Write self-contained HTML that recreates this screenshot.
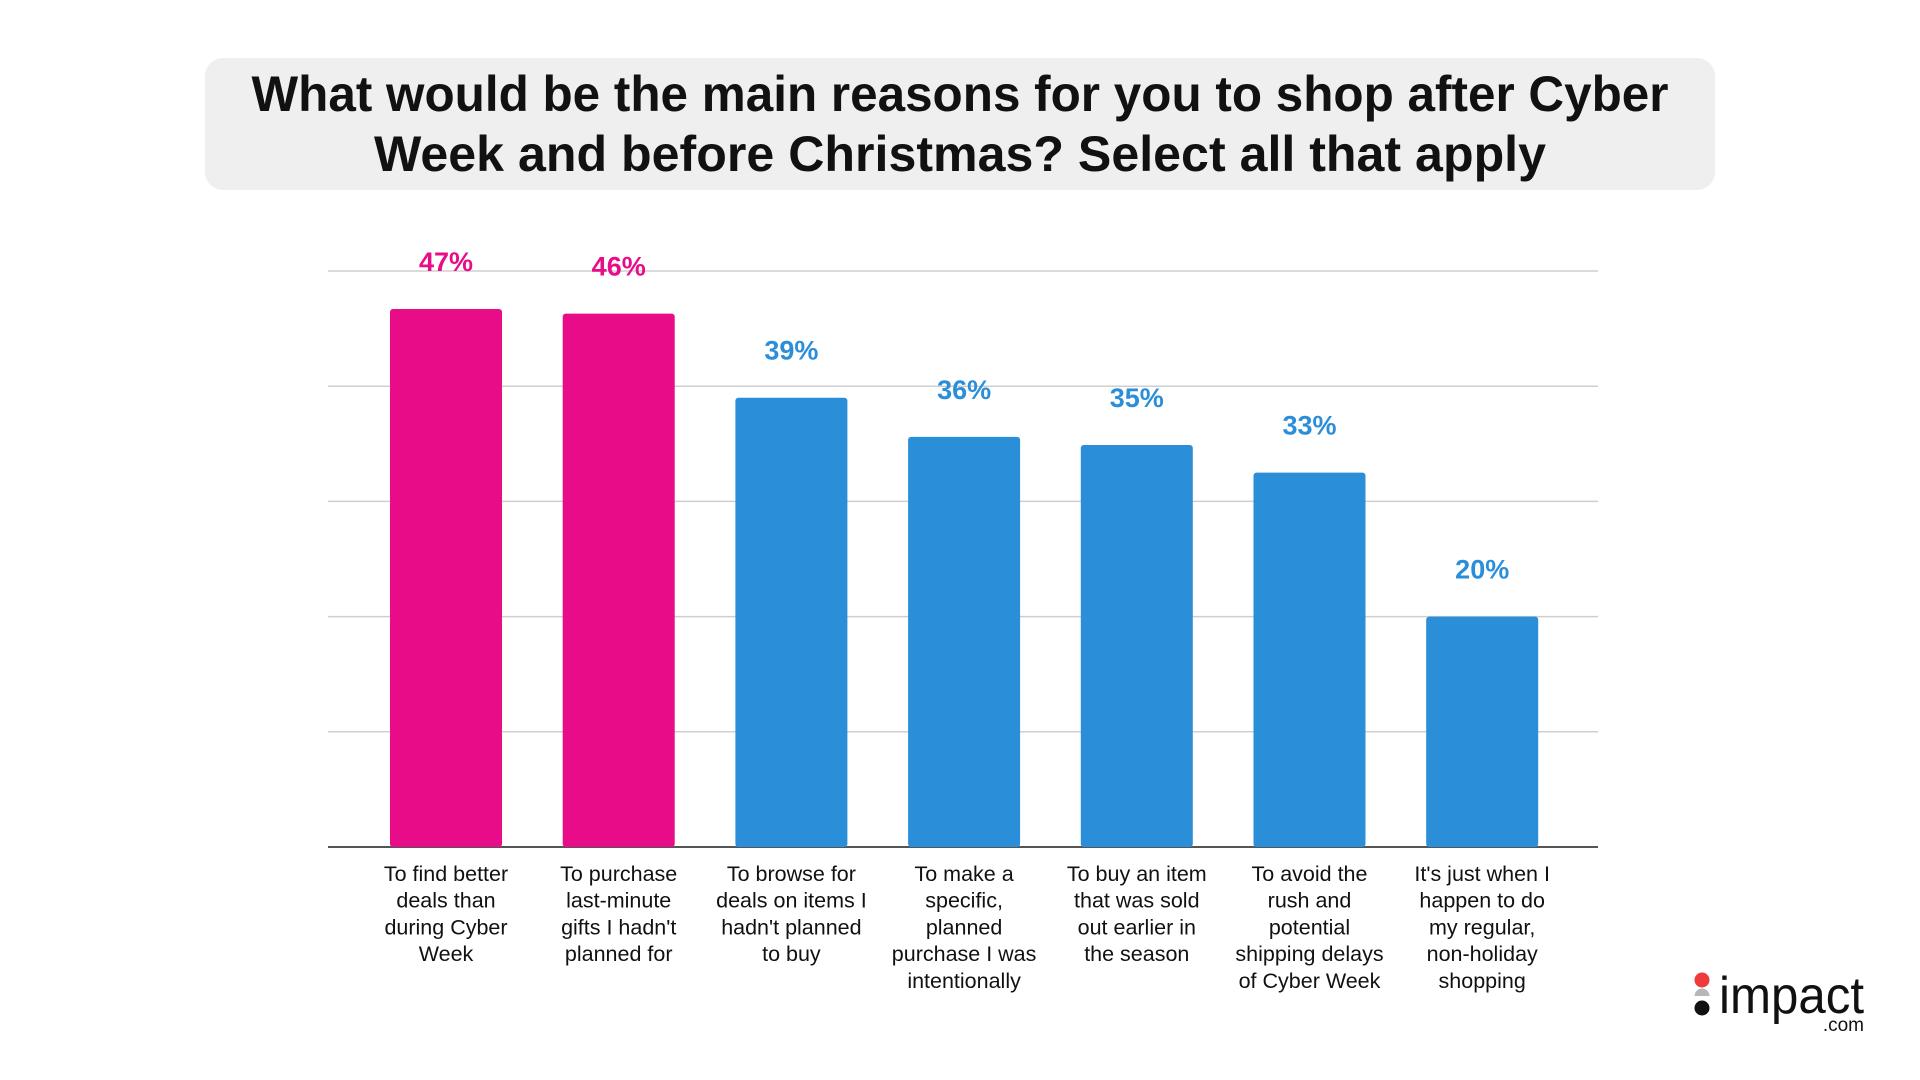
<!DOCTYPE html>
<html><head><meta charset="utf-8"><style>
html,body{margin:0;padding:0;background:#fff;}
svg{display:block;font-family:"Liberation Sans",Arial,sans-serif;}
</style></head><body>
<svg id="chart" width="1920" height="1080" viewBox="0 0 1920 1080">
<rect x="205" y="58" width="1510" height="132" rx="18" fill="#efefef"/>
<g font-weight="bold" font-size="50" fill="#111" text-anchor="middle">
<text x="960" y="111" textLength="1417" lengthAdjust="spacingAndGlyphs">What would be the main reasons for you to shop after Cyber</text>
<text x="960" y="171" textLength="1172" lengthAdjust="spacingAndGlyphs">Week and before Christmas? Select all that apply</text>
</g>
<g id="grid"></g>
<g id="bars"></g>
<g id="labels"></g>
<g>
<circle cx="1702" cy="980" r="7.5" fill="#ee3b3b"/>
<path d="M1694.5 996 a7.5 7.5 0 0 1 15 0 z" fill="#b5b8bb"/>
<circle cx="1702" cy="1008" r="7.5" fill="#111"/>
<text x="1864" y="1013" text-anchor="end" font-size="52" fill="#111" textLength="145" lengthAdjust="spacingAndGlyphs">impact</text>
<text x="1864" y="1031" text-anchor="end" font-size="19" fill="#111">.com</text>
</g>
</svg>
<script>
const categories = [
 ["To find better","deals than","during Cyber","Week"],
 ["To purchase","last-minute","gifts I hadn't","planned for"],
 ["To browse for","deals on items I","hadn't planned","to buy"],
 ["To make a","specific,","planned","purchase I was","intentionally"],
 ["To buy an item","that was sold","out earlier in","the season"],
 ["To avoid the","rush and","potential","shipping delays","of Cyber Week"],
 ["It's just when I","happen to do","my regular,","non-holiday","shopping"]
];
const values = [46.7, 46.3, 39, 35.6, 34.9, 32.5, 20];
const valueLabels = ["47%","46%","39%","36%","35%","33%","20%"];
const highlighted = [true, true, false, false, false, false, false];
const gridTicks = [0, 10, 20, 30, 40, 50];

const NS = "http://www.w3.org/2000/svg";
const x0 = 328, x1 = 1598, yBase = 847, yTop = 271, yMax = 50;
const y = v => yBase - (v / yMax) * (yBase - yTop);
const xc = i => 446 + i * 172.7;
const barW = 112;
function el(tag, attrs, parent){const e=document.createElementNS(NS,tag);for(const k in attrs)e.setAttribute(k,attrs[k]);parent.appendChild(e);return e;}

const grid = document.getElementById('grid');
gridTicks.forEach(t => {
  if (t === 0) return;
  const l = el('line', {x1:x0, x2:x1, y1:y(t), y2:y(t), stroke:'#cfcfcf', 'stroke-width':1.5}, grid);
  
  
});
const bars = document.getElementById('bars');
values.forEach((v, i) => {
  const col = highlighted[i] ? '#e80c89' : '#2b8ed9';
  const r = el('rect', {x:xc(i)-barW/2, y:y(v), width:barW, height:yBase-y(v), rx:3, fill:col}, bars);
  
  
  const t = el('text', {x:xc(i), y:y(v)-38, 'text-anchor':'middle', 'font-size':27, 'font-weight':'bold', fill:col}, bars);
  t.textContent = valueLabels[i];
  
  
});
const ax = el('line', {x1:x0, x2:x1, y1:yBase, y2:yBase, stroke:'#555', 'stroke-width':2}, grid);


const labels = document.getElementById('labels');
categories.forEach((lines, i) => {
  const t = el('text', {x:xc(i), 'text-anchor':'middle', 'font-size':21.5, fill:'#111'}, labels);
  
  
  lines.forEach((s, j) => {
    const ts = el('tspan', {x:xc(i), y:881 + j*26.7}, t);
    ts.textContent = s;
  });
});
</script>
</body></html>
